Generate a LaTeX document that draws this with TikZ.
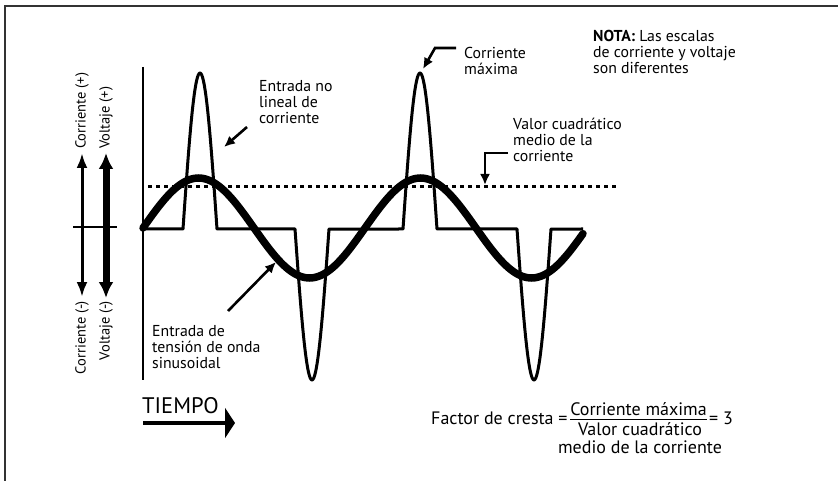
\documentclass[tikz,border=0pt]{standalone}
\usepackage{fontspec}
\setmainfont{PT Sans}
\usetikzlibrary{positioning}
\usetikzlibrary{arrows.meta}
\tikzset{
    mytext/.style = {align=left, inner sep=0pt, text=black, font=\fontsize{15.8}{16}\selectfont},
    mytextr/.style = {rotate=90, inner sep=0pt, text=black, font=\fontsize{14.5}{16}\selectfont},
    mytextf/.style = {inner sep=0pt, text=black, font=\fontsize{18}{18}\selectfont},
    mytextt/.style = {inner sep=0pt, text=black, font=\fontsize{22.5}{24}\selectfont},
    edgec/.style = {-, line width=3pt, black, line join=round},
    edges/.style = {-, line width=7.5pt, black, line cap=round},
    edgeax/.style = {-, line width=2pt, black},
    edged/.style = {-, line width=3pt, black, dash pattern=on 3.5pt off 4.5pt},
    edgep/.style = {-{Latex[length=11pt,width=10pt]}, line width=2.6pt, black},
    edgeframe/.style = {-, line width=2pt, black!80},
}

\begin{document}
\begin{tikzpicture}[x=1pt, y=-1pt]
  \useasboundingbox (0,0) rectangle (838,481);
  % frame
  \draw[edgeframe] (5,481) -- (5,6) -- (838,6);

  % axes at left
  \coordinate (cTop) at (82,153);
  \coordinate (cBot) at (82,297);
  \coordinate (vTop) at (106,153);
  \coordinate (vBot) at (106,298);
  \coordinate (tickL) at (73,227);
  \coordinate (tickR) at (117,227);
  \draw[line width=3pt, {Latex[length=15pt,width=11pt]}-{Latex[length=15pt,width=11pt]}] (cBot) -- (cTop);
  \draw[line width=7pt, {Latex[length=16pt,width=15pt]}-{Latex[length=16pt,width=15pt]}] (vBot) -- (vTop);
  \draw[edgeax] (tickL) -- (tickR);
  \node[mytextr, anchor=west] (cplus) at (82,149) {Corriente (+)};
  \node[mytextr, anchor=west] (vplus) at (106,149) {Voltaje (+)};
  \node[mytextr, anchor=east] (cminus) at (82,301) {Corriente (-)};
  \node[mytextr, anchor=east] (vminus) at (106,301) {Voltaje (-)};

  % time axis
  \coordinate (axTop) at (143,67);
  \coordinate (axBot) at (143,380);
  \draw[edgeax] (axTop) -- (axBot);

  % rms level
  \coordinate (rmsL) at (148,187);
  \coordinate (rmsR) at (620,187);
  \draw[edged] (rmsL) -- (rmsR);

  % current
  \draw[edgec] (143,229) -- (183,229)
    -- plot[domain=-17:17, samples=41] ({200+\x},{229-156*cos(90*\x/17)})
    -- (295,229)
    -- plot[domain=-17:17, samples=41] ({312+\x},{229+151*cos(90*\x/17)})
    -- (403,229)
    -- plot[domain=-17:17, samples=41] ({420+\x},{229-156*cos(90*\x/17)})
    -- (517,229)
    -- plot[domain=-17:17, samples=41] ({534+\x},{229+151*cos(90*\x/17)})
    -- (583,229);

  % voltage
  \draw[edges] plot[domain=143:583, samples=120, smooth] (\x,{228-50*sin((\x-143)/222*360)});

  % labels (base = last line)
  \node[mytext, anchor=base west] (nolin) at (259,124) {Entrada no\\lineal de\\corriente};
  \coordinate (nlA) at (247,127);
  \coordinate (nlTip) at (224,147);
  \draw[edgep] (nlA) -- (nlTip);

  \node[mytext, anchor=base west] (maxi) at (464,75) {Corriente\\máxima};
  \coordinate (mxA) at (456,48);
  \coordinate (mxB) at (435,48);
  \coordinate (mxTip) at (423,69);
  \draw[edgep] (mxA) -- (mxB) -- (mxTip);

  \node[mytext, anchor=base west] (nota) at (593,74) {\textbf{NOTA:} Las escalas\\de corriente y voltaje\\son diferentes};

  \node[mytext, anchor=base west] (rms) at (513,162) {Valor cuadrático\\medio de la\\corriente};
  \coordinate (rmA) at (508,153);
  \coordinate (rmB) at (485,153);
  \coordinate (rmTip) at (485,185);
  \draw[edgep] (rmA) -- (rmB) -- (rmTip);

  \node[mytext, anchor=base west] (sinl) at (152,368) {Entrada de\\tensión de onda\\sinusoidal};
  \coordinate (snA) at (228,311);
  \coordinate (snTip) at (276,262);
  \draw[edgep] (snA) -- (snTip);

  % time
  \node[mytextt, anchor=base west] (tiempo) at (142,413) {TIEMPO};
  \coordinate (tA) at (143,423);
  \coordinate (tTip) at (235,423);
  \draw[line width=4.5pt, -{Triangle[length=10pt,width=30pt]}] (tA) -- (tTip);

  % crest factor
  \node[mytextf, anchor=base west] (fc) at (431,424) {Factor de cresta =};
  \node[mytextf, anchor=base] (num) at (638.5,415.5) {Corriente máxima};
  \draw[line width=1.3pt] ([yshift=-3.5pt]num.south west) -- ([yshift=-3.5pt]num.south east);
  \node[mytextf, anchor=base] (den1) at (640,435) {Valor cuadrático};
  \node[mytextf, anchor=base] (den2) at (640,453) {medio de la corriente};
  \node[mytextf, anchor=base west] (eq) at (709,424) {= 3};
\end{tikzpicture}
\end{document}
